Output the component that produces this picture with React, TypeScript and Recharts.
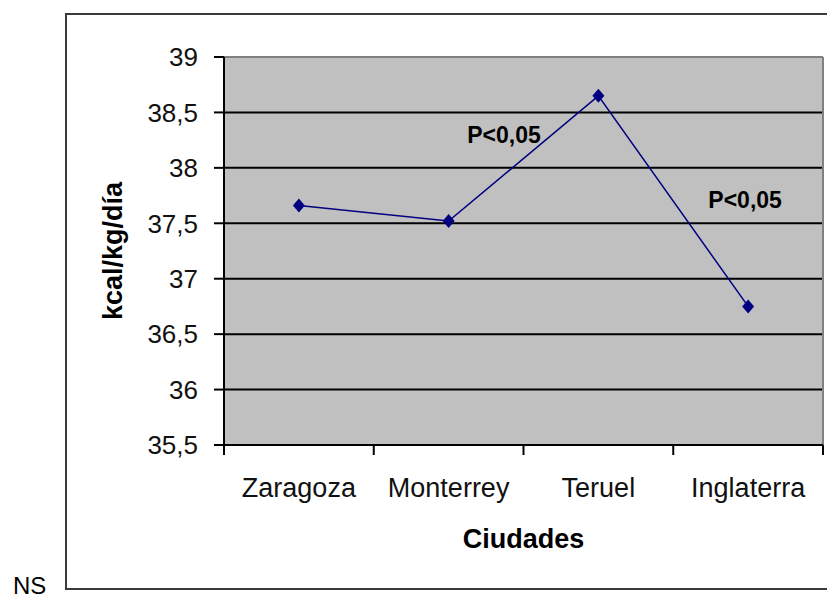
import {CartesianGrid, Label, Line, LineChart, ReferenceDot, ReferenceLine, XAxis, YAxis} from 'recharts';

const cities = ['Zaragoza', 'Monterrey', 'Teruel', 'Inglaterra'];
const kcal = [37.66, 37.52, 38.65, 36.75];
const yTicks = [35.5, 36, 36.5, 37, 37.5, 38, 38.5, 39];
const bandEdges = [0, 1, 2, 3, 4];
const bandCenters = [0.5, 1.5, 2.5, 3.5];
// where the significance notes sit, in category/value units
const notePos = [1.87, 3.48];
const noteValue = [38.3, 37.71];
const noteText = ['P<0,05', 'P<0,05'];

const font = '"Liberation Sans", Arial, sans-serif';

const Diamond = (props: any) => {
    const {cx, cy} = props;
    if (cx == null || cy == null) return null;
    return <polygon points={`${cx},${cy - 7} ${cx + 6},${cy} ${cx},${cy + 7} ${cx - 6},${cy}`} fill="#000080"/>;
};

export default function App() {
    const data = cities.map((city, i) => ({pos: bandCenters[i], city, kcal: kcal[i]}));

    return (
        <div style={{position: 'absolute', left: 0, top: 0, width: 827, height: 599, overflow: 'hidden', background: '#fff'}}>
            <div style={{
                position: 'absolute', left: 65, top: 13, width: 800, height: 573,
                border: '2px solid #3a3a3a'
            }}/>
            <div style={{
                position: 'absolute', left: 13, top: 574, fontFamily: font, fontSize: 24, lineHeight: '24px', color: '#000'
            }}>NS
            </div>
            <div style={{position: 'absolute', left: 0, top: 0}}>
                <LineChart width={827} height={599} data={data} margin={{top: 57, right: 4, bottom: 0, left: 0}}>
                    <CartesianGrid vertical={false} fill="#C0C0C0" stroke="#000" strokeWidth={2}
                                   horizontalValues={yTicks.slice(1, -1)}/>
                    {/* tick marks at the category borders, right under the plot */}
                    <XAxis xAxisId="edges" type="number" dataKey="pos" domain={[0, 4]} ticks={bandEdges}
                           interval={0} allowDataOverflow
                           tickFormatter={() => ''} height={10} tickSize={10}
                           axisLine={{stroke: '#000', strokeWidth: 2}} tickLine={{stroke: '#000', strokeWidth: 2}}/>
                    <XAxis xAxisId="labels" type="number" dataKey="pos" domain={[0, 4]} ticks={bandCenters}
                           interval={0}
                           tickFormatter={(v: number) => cities[Math.floor(v)]}
                           axisLine={false} tickLine={false} tickSize={6} tickMargin={17} height={144}
                           tick={{fontFamily: font, fontSize: 27, fill: '#111'}}>
                        <Label content={(p: any) => {
                            const vb = p.viewBox;
                            return <text x={vb.x + vb.width / 2} y={548} textAnchor="middle" fontFamily={font}
                                         fontSize={27} fontWeight="bold" fill="#000">Ciudades</text>;
                        }}/>
                    </XAxis>
                    <YAxis type="number" domain={[35.5, 39]} ticks={yTicks} width={224} tickSize={10}
                           tickMargin={16} interval={0}
                           tickFormatter={(v: number) => String(v).replace('.', ',')}
                           axisLine={{stroke: '#000', strokeWidth: 2}} tickLine={{stroke: '#000', strokeWidth: 2}}
                           tick={{fontFamily: font, fontSize: 26, fill: '#111'}}>
                        <Label content={(p: any) => {
                            const vb = p.viewBox;
                            const cx = 113;
                            const cy = vb.y + vb.height / 2;
                            return <text x={cx} y={cy} transform={`rotate(-90, ${cx}, ${cy})`} textAnchor="middle"
                                         dominantBaseline="central" fontFamily={font} fontSize={27}
                                         fontWeight="bold" fill="#000">kcal/kg/día</text>;
                        }}/>
                    </YAxis>
                    <ReferenceLine xAxisId="labels" y={39} stroke="#808080" strokeWidth={2}/>
                    <ReferenceLine xAxisId="labels" x={4} stroke="#808080" strokeWidth={2}/>
                    <Line xAxisId="labels" type="linear" dataKey="kcal" stroke="#000080" strokeWidth={1.5}
                          dot={<Diamond/>} activeDot={false} isAnimationActive={false}/>
                    {noteText.map((t, i) => (
                        <ReferenceDot key={i} xAxisId="labels" x={notePos[i]} y={noteValue[i]} r={0} fill="none"
                                      stroke="none"
                                      label={(p: any) => {
                                          const vb = p.viewBox;
                                          return <text x={vb.x + vb.width / 2} y={vb.y + vb.height / 2}
                                                       textAnchor="middle" dominantBaseline="central"
                                                       fontFamily={font} fontSize={23} fontWeight="bold"
                                                       fill="#000">{t}</text>;
                                      }}/>
                    ))}
                </LineChart>
            </div>
        </div>
    );
}
